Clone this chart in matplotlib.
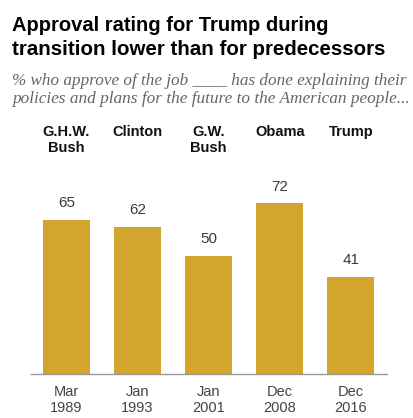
import matplotlib
matplotlib.use("Agg")
import matplotlib.pyplot as plt
import matplotlib.transforms as mtransforms

# data
presidents = ["G.H.W.\nBush", "Clinton", "G.W.\nBush", "Obama", "Trump"]
dates = ["Mar\n1989", "Jan\n1993", "Jan\n2001", "Dec\n2008", "Dec\n2016"]
approve = [65, 62, 50, 72, 41]

W, H = 413, 418
fig = plt.figure(figsize=(W / 100, H / 100), dpi=100)
renderer = fig.canvas.get_renderer()

BAR = "#D2A52F"
GREY = "#444444"
SANS = ["Liberation Sans Narrow", "Liberation Sans", "DejaVu Sans"]


def fit_text(x0, ybase, s, width_px, size, **kw):
    # place text then shrink/grow it so its width matches the reference
    t = fig.text(x0 / W, 1 - ybase / H, s, fontsize=size, va="baseline", **kw)
    w = t.get_window_extent(renderer).width
    t.set_fontsize(size * width_px / w)
    return t


# axes: x from 31 to 387 px, baseline at y=374 px from top
ax = fig.add_axes([31 / W, (H - 374) / H, (387 - 31) / W, 237 / H])
x = list(range(len(approve)))
ax.bar(x, approve, width=0.66, color=BAR)
ax.set_xlim(-0.5, 4.51)
ax.set_ylim(0, 100)
for s in ["top", "right", "left"]:
    ax.spines[s].set_visible(False)
ax.spines["bottom"].set_color("#999999")
ax.spines["bottom"].set_linewidth(1.0)
ax.set_yticks([])
ax.set_xticks(x)
ax.set_xticklabels(dates, fontsize=10.5, color=GREY, linespacing=1.2,
                   family="Liberation Sans")
ax.tick_params(axis="x", length=0, pad=8)

for xi, v in zip(x, approve):
    ax.annotate(str(v), (xi, v), xytext=(0, 7), textcoords="offset points",
                ha="center", va="bottom", fontsize=11, color="#3a3a3a",
                family="Liberation Sans")

trans = mtransforms.blended_transform_factory(ax.transData, fig.transFigure)
for xi, name in zip(x, presidents):
    ax.text(xi, 1 - 125 / H, name, transform=trans, ha="center", va="top",
            fontsize=10.5, fontweight="bold", color="#111111", linespacing=1.2,
            family="Liberation Sans")

fit_text(12, 31, "Approval rating for Trump during", 318, 15,
         fontweight="bold", color="#000000", family=SANS)
fit_text(12, 55, "transition lower than for predecessors", 375, 15,
         fontweight="bold", color="#000000", family=SANS)
fit_text(12, 85, "% who approve of the job ____ has done explaining their",
         392, 11, style="italic", family="Liberation Serif", color="#666666")
fit_text(12, 103,
         "policies and plans for the future to the American people...",
         398, 11, style="italic", family="Liberation Serif", color="#666666")

fig.savefig("out.png", dpi=100)
